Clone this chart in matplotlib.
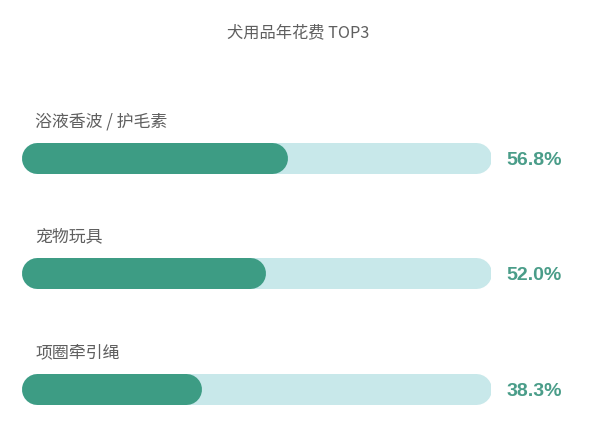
import matplotlib
matplotlib.use("Agg")
import matplotlib.pyplot as plt

# données
categories = ["浴液香波 / 护毛素", "宠物玩具", "项圈牵引绳"]
valeurs = [56.8, 52.0, 38.3]
etiquettes = ["56.8%", "52.0%", "38.3%"]
titre = "犬用品年花费 TOP3"

plt.rcParams['font.family'] = ['Noto Sans CJK SC', 'DejaVu Sans']

couleur_fonce = '#3d9c84'
couleur_piste = '#c8e8ea'
couleur_texte = '#5f5f5f'
couleur_pct = '#4a9d89'

fig = plt.figure(figsize=(6, 4.37), dpi=100)
fig.patch.set_facecolor('white')

# axe : 0..100 % sur la largeur de la piste
ax = fig.add_axes([21 / 600, 0.0174, 470 / 600, 0.7664])
ax.set_xlim(0, 100)
ax.set_ylim(2.35, -0.55)
ax.axis('off')

# rayon des extrémités arrondies, en unités de données
largeur_px = 31
px_par_unite = 470 / 100
r = (largeur_px / 2) / px_par_unite
lw = largeur_px * 72 / 100

for i, (cat, val, lab) in enumerate(zip(categories, valeurs, etiquettes)):
    # piste de fond
    ax.plot([r, 100 - r], [i, i], color=couleur_piste, lw=lw,
            solid_capstyle='round', zorder=1)
    # partie remplie
    ax.plot([r, val - r], [i, i], color=couleur_fonce, lw=lw,
            solid_capstyle='round', zorder=2)
    # nom de la catégorie
    ax.text(3.0, i - 0.32, cat, fontsize=12.2, color=couleur_texte,
            ha='left', va='center')
    # pourcentage
    ax.text(103.2, i + 0.02, lab, fontsize=14, fontweight='bold',
            color=couleur_pct, family=['Liberation Sans', 'DejaVu Sans'],
            ha='left', va='center', clip_on=False)

fig.text(0.4975, 1 - 33 / 437, titre, fontsize=11.7, color=couleur_texte,
         ha='center', va='center')

plt.savefig("out.png", dpi=100)
plt.close()
